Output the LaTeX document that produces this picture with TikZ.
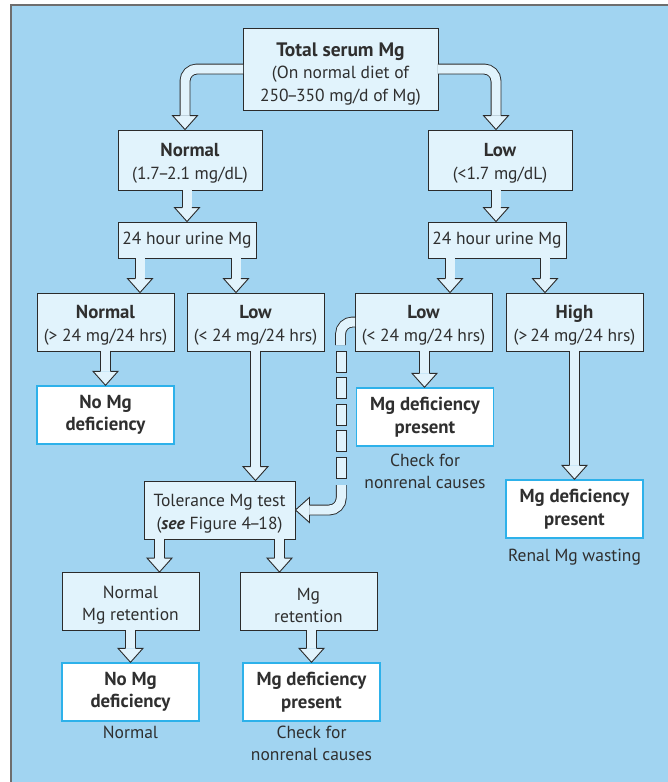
\documentclass[tikz,border=0pt]{standalone}
\usepackage{fontspec}
\setmainfont{PT Sans}
\usetikzlibrary{positioning}
\definecolor{bgblue}{HTML}{A1D4F1}
\definecolor{boxfill}{HTML}{E1F3FC}
\definecolor{edgecol}{HTML}{2B2B2B}
\definecolor{outline}{HTML}{2DB1EA}
\definecolor{txt}{HTML}{2F2F2F}
\definecolor{framecol}{HTML}{6E6E6E}
\newcommand{\up}{\rule{0pt}{20pt}}
\newcommand{\hd}[1]{{\up\fontsize{18.8}{22.5}\selectfont\bfseries #1}}
\newcommand{\rng}{\kern-0.12em--\kern-0.12em}

\begin{document}
\begin{tikzpicture}[x=1pt,y=-1pt,text=txt,
            font=\fontsize{17.5}{22.5}\selectfont,
            box/.style={draw=edgecol, line width=0.9pt, fill=boxfill, align=center,
              inner sep=0pt, minimum width=137pt, minimum height=58pt},
            result/.style={box, draw=outline, line width=1.4pt, fill=white,
              font=\fontsize{18.8}{22.5}\selectfont\bfseries},
            note/.style={align=center, inner sep=0pt},
            shaft/.style={draw=edgecol, line width=0.9pt, double=boxfill,
              double distance=9pt, rounded corners=12pt},
            headdown/.pic={
              \fill[boxfill] (-12.5,-14) -- (0,0) -- (12.5,-14) -- cycle;
              \draw[edgecol, line width=0.9pt, line join=miter]
                (-4.95,-14) -- (-12.5,-14) -- (0,0) -- (12.5,-14) -- (4.95,-14);}]

        \useasboundingbox (0,0) rectangle (668,782);
        \fill[bgblue] (11,5) rectangle (668,782);
        \draw[framecol, line width=2pt] (11,782) -- (11,5) -- (668,5);

        % Define boxes
        \node[box, minimum width=195pt, minimum height=82pt] (tot) at (340.5,69)
            {{\rule{0pt}{23pt}\fontsize{19.5}{22.5}\selectfont\bfseries Total serum Mg}\\(On normal diet of\\250\rng350 mg/d of Mg)};
        \node[box, minimum width=144pt, minimum height=60pt] (sNorm) at (190,160)
            {\hd{Normal}\\(1.7\rng2.1 mg/dL)};
        \node[box, minimum width=144pt, minimum height=60pt] (sLow) at (500,160)
            {\hd{Low}\\(<1.7 mg/dL)};
        \node[box, minimum width=138pt, minimum height=36pt] (urL) at (187,240) {24 hour urine Mg};
        \node[box, minimum width=138pt, minimum height=36pt] (urR) at (497,240) {24 hour urine Mg};
        \node[box] (uNorm) at (105.5,322) {\hd{Normal}\\(> 24 mg/24 hrs)};
        \node[box] (uLowA) at (255.5,322) {\hd{Low}\\(< 24 mg/24 hrs)};
        \node[box] (uLowB) at (423.5,322) {\hd{Low}\\(< 24 mg/24 hrs)};
        \node[box] (uHigh) at (574.5,322) {\hd{High}\\(>\,24 mg/24 hrs)};
        \node[result] (noDefA) at (105.5,415) {No Mg\\deficiency};
        \node[result] (defA) at (425,417) {Mg deficiency\\present};
        \node[result] (defB) at (574.5,509) {Mg deficiency\\present};
        \node[box, minimum width=151pt] (tol) at (219.5,510)
            {\up Tolerance Mg test\\(\textbf{\textit{see}} Figure 4\rng18)};
        \node[box] (nRet) at (130.5,601.5) {\up Normal\\Mg retention};
        \node[box] (mRet) at (308.5,601.5) {\up Mg\\retention};
        \node[result] (noDefB) at (130.5,692) {No Mg\\deficiency};
        \node[result] (defC) at (311.5,692) {Mg deficiency\\present};

        % Notes under results
        \node[note, below=7pt of defA] (noteA) {Check for\\nonrenal causes};
        \node[note, below=10pt of defB] (noteB) {Renal Mg wasting};
        \node[note, below=4pt of noDefB] (noteC) {Normal};
        \node[note, below=4pt of defC] (noteD) {Check for\\nonrenal causes};

        % Draw arrows
        \draw[shaft] ([xshift=0.6pt]tot.west) -| ([xshift=-5pt, yshift=14pt]sNorm.north);
        \pic at ([xshift=-5pt]sNorm.north) {headdown};
        \draw[shaft] ([xshift=-0.6pt]tot.east) -| ([xshift=-4pt, yshift=14pt]sLow.north);
        \pic at ([xshift=-4pt]sLow.north) {headdown};

        \foreach \s/\dx/\t in {sNorm/-3/urL, sLow/-4/urR, urL/-47/uNorm, urL/49/uLowA,
                urR/-47/uLowB, urR/48/uHigh, uNorm/0/noDefA, uLowA/0/tol, uLowB/1/defA,
                uHigh/0/defB, tol/-60/nRet, tol/60/mRet, nRet/0/noDefB, mRet/3/defC} {
            \coordinate (p) at ([xshift=\dx pt, yshift=0.6pt]\s.south);
            \coordinate (q) at (p |- \t.north);
            \draw[shaft] (p) -- ([yshift=14pt]q);
            \pic at (q) {headdown};
        }

        % Dashed arrow to tolerance test
        \draw[shaft] ([xshift=0.6pt]uLowB.west) -| ([xshift=-14pt, yshift=-23pt]uLowB.west);
        \foreach \y in {351,377.5,404,430.5,457}
            \draw[edgecol, line width=0.9pt, fill=boxfill] (336.5,\y) rectangle (346,\y+21);
        \coordinate (dbot) at (341.25,485);
        \draw[shaft] (dbot) |- ([xshift=14pt]tol.east);
        \pic[rotate=-90] at (tol.east) {headdown};

\end{tikzpicture}
\end{document}
